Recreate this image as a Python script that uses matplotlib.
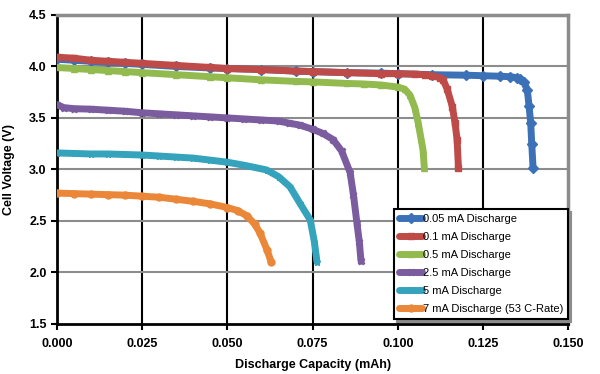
import matplotlib
matplotlib.use("Agg")
import matplotlib.pyplot as plt

plt.rcParams['font.family'] = ['Liberation Sans', 'DejaVu Sans']

# discharge capacity (mAh) / cell voltage (V)
cap_005 = [0.000, 0.005, 0.010, 0.015, 0.020, 0.025, 0.035, 0.045, 0.050, 0.060, 0.070, 0.075,
           0.085, 0.095, 0.100, 0.110, 0.120, 0.125, 0.130, 0.133, 0.135, 0.136, 0.137, 0.138,
           0.1385, 0.139, 0.1393, 0.1397]
v_005 = [4.07, 4.06, 4.05, 4.04, 4.03, 4.02, 4.00, 3.985, 3.98, 3.97, 3.955, 3.95,
         3.94, 3.935, 3.93, 3.92, 3.915, 3.91, 3.905, 3.90, 3.89, 3.88, 3.85, 3.77,
         3.62, 3.45, 3.25, 3.01]

cap_01 = [0.000, 0.005, 0.010, 0.015, 0.020, 0.025, 0.035, 0.045, 0.050, 0.060, 0.070, 0.075,
          0.085, 0.095, 0.100, 0.105, 0.108, 0.110, 0.1125, 0.1133, 0.1145, 0.116, 0.1168,
          0.1174, 0.1178]
v_01 = [4.09, 4.08, 4.06, 4.05, 4.04, 4.03, 4.01, 3.99, 3.98, 3.97, 3.955, 3.95,
        3.94, 3.93, 3.93, 3.925, 3.92, 3.91, 3.89, 3.87, 3.78, 3.61, 3.45,
        3.29, 3.01]

cap_05 = [0.000, 0.005, 0.010, 0.015, 0.020, 0.025, 0.035, 0.045, 0.050, 0.060, 0.070, 0.075,
          0.085, 0.090, 0.095, 0.100, 0.102, 0.1036, 0.105, 0.106, 0.1068, 0.1074, 0.1078]
v_05 = [3.99, 3.98, 3.97, 3.96, 3.95, 3.94, 3.92, 3.90, 3.89, 3.87, 3.855, 3.85,
        3.835, 3.83, 3.82, 3.80, 3.78, 3.72, 3.60, 3.45, 3.30, 3.19, 3.01]

cap_25 = [0.000, 0.002, 0.005, 0.010, 0.015, 0.020, 0.025, 0.030, 0.035, 0.040, 0.045, 0.050,
          0.055, 0.060, 0.065, 0.068, 0.0713, 0.075, 0.078, 0.081, 0.0835, 0.086, 0.087,
          0.088, 0.0887, 0.0892]
v_25 = [3.63, 3.60, 3.59, 3.585, 3.575, 3.565, 3.55, 3.54, 3.53, 3.52, 3.51, 3.50,
        3.49, 3.48, 3.47, 3.45, 3.43, 3.39, 3.35, 3.29, 3.18, 2.97, 2.75,
        2.48, 2.30, 2.11]

cap_5 = [0.000, 0.005, 0.010, 0.015, 0.020, 0.025, 0.030, 0.035, 0.040, 0.045, 0.050, 0.055,
         0.0615, 0.065, 0.0684, 0.0713, 0.0743, 0.0755, 0.0763]
v_5 = [3.16, 3.155, 3.15, 3.15, 3.145, 3.14, 3.13, 3.12, 3.11, 3.09, 3.07, 3.04,
       2.995, 2.93, 2.83, 2.67, 2.51, 2.30, 2.10]

cap_7 = [0.000, 0.005, 0.010, 0.015, 0.020, 0.025, 0.030, 0.035, 0.040, 0.045, 0.050, 0.053,
         0.0557, 0.058, 0.0596, 0.0616, 0.0628]
v_7 = [2.77, 2.765, 2.76, 2.755, 2.75, 2.74, 2.73, 2.71, 2.69, 2.665, 2.63, 2.60,
       2.55, 2.47, 2.38, 2.22, 2.105]

series = [
    (cap_005, v_005, '0.05 mA Discharge', '#3C71B8', 'D'),
    (cap_01, v_01, '0.1 mA Discharge', '#BE4B48', 's'),
    (cap_05, v_05, '0.5 mA Discharge', '#93BA4F', '^'),
    (cap_25, v_25, '2.5 mA Discharge', '#7B5C9F', 'X'),
    (cap_5, v_5, '5 mA Discharge', '#35A3BC', '*'),
    (cap_7, v_7, '7 mA Discharge (53 C-Rate)', '#EA8739', 'o'),
]

fig = plt.figure(figsize=(6, 3.74), dpi=100)
ax = fig.add_axes([0.095, 0.134, 0.852, 0.826])

for x, y, label, color, mk in series:
    ax.plot(x, y, color=color, lw=5, marker=mk, ms=5, mec=color, mfc=color,
            label=label, solid_capstyle='round', solid_joinstyle='round', zorder=3)

ax.set_xlim(0, 0.150)
ax.set_ylim(1.5, 4.5)
ax.set_xticks([0.000, 0.025, 0.050, 0.075, 0.100, 0.125, 0.150])
ax.set_xticklabels(['0.000', '0.025', '0.050', '0.075', '0.100', '0.125', '0.150'])
ax.set_yticks([1.5, 2.0, 2.5, 3.0, 3.5, 4.0, 4.5])
ax.set_yticklabels(['1.5', '2.0', '2.5', '3.0', '3.5', '4.0', '4.5'])
for lab in ax.get_xticklabels() + ax.get_yticklabels():
    lab.set_fontweight('bold')
    lab.set_fontsize(9)

for xv in [0.025, 0.050, 0.075, 0.100, 0.125]:
    ax.axvline(xv, color='black', lw=1.5, zorder=1)
for yv in [2.0, 2.5, 3.0, 3.5, 4.0]:
    ax.axhline(yv, color='#8C8C8C', lw=1.5, zorder=1)

ax.spines['left'].set_linewidth(2)
ax.spines['bottom'].set_linewidth(2)
ax.spines['top'].set_color('#8C8C8C')
ax.spines['right'].set_color('#8C8C8C')
ax.spines['top'].set_linewidth(2.5)
ax.spines['right'].set_linewidth(2.5)
ax.tick_params(direction='out', length=4, width=1.5)
ax.tick_params(axis='x', pad=6)

ax.set_xlabel('Discharge Capacity (mAh)', fontsize=9, fontweight='bold', labelpad=7)
ax.set_ylabel('Cell Voltage (V)', fontsize=9, fontweight='bold', labelpad=10)

leg = ax.legend(loc='lower right', bbox_to_anchor=(1.0, 0.016), borderaxespad=0,
                fontsize=8, frameon=True, fancybox=False, handlelength=2.0,
                handletextpad=0.1, labelspacing=0.72, borderpad=0.45,
                shadow={'color': '0.55', 'alpha': 1})
leg.get_frame().set_edgecolor('black')
leg.get_frame().set_linewidth(1.5)
leg.set_zorder(5)

fig.savefig('out.png', dpi=100)
